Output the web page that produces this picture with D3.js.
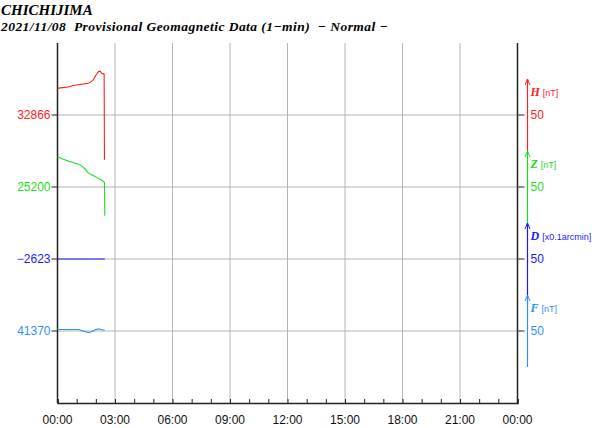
<!DOCTYPE html>
<html>
<head>
<meta charset="utf-8">
<script src="https://cdn.jsdelivr.net/npm/d3@7"></script>
<style>
  body { margin: 0; background: #fff; }
  svg { display: block; }
  .ttl { font-family: "Liberation Serif", "DejaVu Serif", serif; font-weight: bold; font-style: italic; }
  .num { font-family: "Liberation Sans", Arial, sans-serif; font-size: 12px; }
</style>
</head>
<body>
<script>
// station + header text
var station = "CHICHIJIMA";
var subtitle = "2021/11/08  Provisional Geomagnetic Data (1\u2212min)  \u2212 Normal \u2212";

// x axis: hours 0..24, labels every 3h
var hourTicks = [0, 3, 6, 9, 12, 15, 18, 21, 24];
var hourLabels = ["00:00", "03:00", "06:00", "09:00", "12:00", "15:00", "18:00", "21:00", "00:00"];

// channels
var chNames = ["H", "Z", "D", "F"];
var chUnits = ["[nT]", "[nT]", "[x0.1arcmin]", "[nT]"];
var chBase = [32866, 25200, -2623, 41370];
var chColors = ["#ff2020", "#18e018", "#1a1aff", "#2f8fff"];
var scaleLabel = 50;

// samples, minutes since 00:00
var hMin = [0, 15, 33, 50, 65, 80, 96, 104, 112, 120, 128, 133, 138, 146, 147];
var hVal = [32903, 32904, 32905, 32907, 32908, 32909, 32910, 32912, 32915, 32921, 32926, 32927, 32924, 32923, 32804];
var zMin = [0, 16, 34, 55, 76, 86, 96, 112, 128, 140, 147, 148];
var zVal = [25242, 25239, 25236, 25233, 25229, 25225, 25220, 25216, 25212, 25209, 25206, 25160];
var dMin = [0, 148];
var dVal = [-2623, -2623];
var fMin = [0, 30, 65, 80, 96, 111, 120, 128, 136, 148];
var fVal = [41372, 41372, 41372, 41370, 41368, 41370, 41372, 41373, 41372, 41371];

var series = [
  { t: hMin, v: hVal },
  { t: zMin, v: zVal },
  { t: dMin, v: dVal },
  { t: fMin, v: fVal }
];

var W = 600, H = 428;
var margin = { top: 43, right: 82.5, bottom: 25, left: 57.5 };
var width = W - margin.left - margin.right;
var height = H - margin.top - margin.bottom;
var band = height / 5;

var svg = d3.select("body").append("svg")
  .attr("width", W).attr("height", H);

svg.append("text").attr("class", "ttl")
  .attr("x", 1).attr("y", 15).style("font-size", "15px")
  .text(station);
svg.append("text").attr("class", "ttl")
  .attr("x", 1).attr("y", 31).style("font-size", "13.5px")
  .style("letter-spacing", "0.45px")
  .attr("xml:space", "preserve")
  .style("white-space", "pre")
  .text(subtitle);

var g = svg.append("g")
  .attr("transform", `translate(${margin.left}, ${margin.top})`);

var x = d3.scaleLinear().domain([0, 24]).range([0, width]);

// one y scale per channel, 100 units per band
var yScales = chBase.map(function(b, i) {
  var cy = band * (i + 1);
  return d3.scaleLinear().domain([b - 50, b + 50]).range([cy + band / 2, cy - band / 2]);
});

// vertical grid
g.selectAll(".vg")
  .data(hourTicks.slice(1, -1))
  .enter().append("line")
  .attr("x1", d => x(d)).attr("x2", d => x(d))
  .attr("y1", 0).attr("y2", height)
  .attr("stroke", "#b4b4b4").attr("stroke-width", 1);

// horizontal grid at base values
g.selectAll(".hg")
  .data(chBase)
  .enter().append("line")
  .attr("x1", 0).attr("x2", width + 7)
  .attr("y1", (d, i) => yScales[i](d)).attr("y2", (d, i) => yScales[i](d))
  .attr("stroke", "#b4b4b4").attr("stroke-width", 1);

// bottom axis with hourly ticks pointing inward
var bottomAxis = d3.axisBottom(x)
  .tickValues(d3.range(0, 25))
  .tickSize(-4)
  .tickFormat("");
var xa = g.append("g")
  .attr("transform", `translate(0, ${height})`)
  .call(bottomAxis);
xa.select(".domain").attr("stroke", "#222").attr("stroke-width", 1.5);
xa.selectAll(".tick line").attr("stroke", "#222");

g.selectAll(".xl")
  .data(hourTicks)
  .enter().append("text")
  .attr("class", "num")
  .attr("x", d => x(d)).attr("y", height + 21)
  .attr("text-anchor", "middle")
  .attr("fill", "#111")
  .text((d, i) => hourLabels[i]);

// left & right frame lines
g.append("line").attr("x1", 0).attr("x2", 0).attr("y1", 0).attr("y2", height)
  .attr("stroke", "#222").attr("stroke-width", 1.5);
g.append("line").attr("x1", width).attr("x2", width).attr("y1", 0).attr("y2", height)
  .attr("stroke", "#222").attr("stroke-width", 1.5);

// left ticks + base labels
var fmt = d3.format("d");
chBase.forEach(function(b, i) {
  var yy = yScales[i](b);
  g.append("line").attr("x1", -6).attr("x2", 0).attr("y1", yy).attr("y2", yy)
    .attr("stroke", "#222");
  g.append("line").attr("x1", width).attr("x2", width + 7).attr("y1", yy).attr("y2", yy)
    .attr("stroke", "#444");
  g.append("text").attr("class", "num")
    .attr("x", -7).attr("y", yy).attr("dy", "0.36em")
    .attr("text-anchor", "end")
    .attr("fill", chColors[i])
    .text(fmt(b));
});

// data lines
var line = d3.line()
  .x(d => x(d[0] / 60))
  .y(d => d[1])
  .curve(d3.curveMonotoneX);
series.forEach(function(s, i) {
  var pts = s.t.map((t, k) => [t, yScales[i](s.v[k])]);
  g.append("path")
    .attr("d", line(pts))
    .attr("fill", "none")
    .attr("stroke", chColors[i])
    .attr("stroke-width", 1.1);
});

// right-side scale bars
var bx = width + 10;
chBase.forEach(function(b, i) {
  var ys = yScales[i];
  var yTop = ys(b + 50), yBot = ys(b - 50), yMid = ys(b - 50 + scaleLabel);
  var c = chColors[i];
  g.append("line").attr("x1", bx).attr("x2", bx).attr("y1", yTop).attr("y2", yBot)
    .attr("stroke", c).attr("stroke-width", 1.2);
  g.append("path")
    .attr("d", `M${bx - 2.5},${yTop + 6} L${bx},${yTop} L${bx + 2.5},${yTop + 6}`)
    .attr("fill", "none").attr("stroke", c).attr("stroke-width", 1);
  var lab = g.append("text").attr("x", bx + 3).attr("y", yTop + 17);
  lab.append("tspan").attr("class", "ttl").style("font-size", "12px")
    .attr("fill", c).text(chNames[i]);
  lab.append("tspan").attr("class", "num").style("font-size", "9px")
    .attr("dx", 3).attr("fill", c).text(chUnits[i]);
  g.append("text").attr("class", "num")
    .attr("x", bx + 3).attr("y", yMid).attr("dy", "0.36em")
    .style("font-size", "12px")
    .attr("fill", c).text(scaleLabel);
});
</script>
</body>
</html>
